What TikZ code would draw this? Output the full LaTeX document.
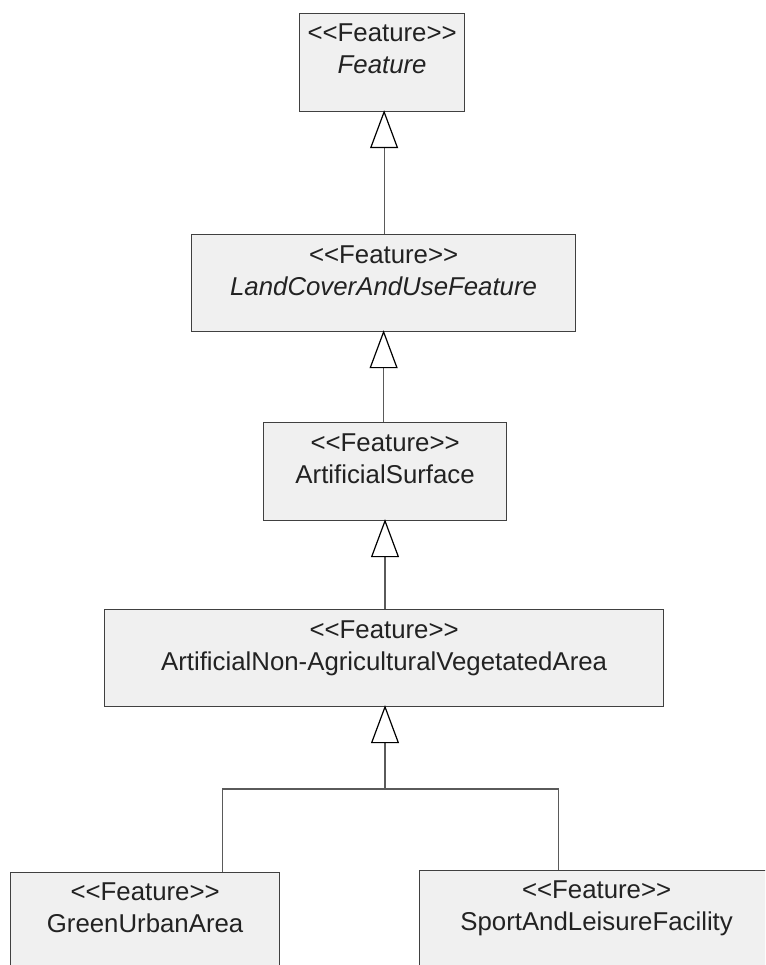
\documentclass[tikz,border=0pt]{standalone}
\usepackage{fontspec}
\setmainfont{Liberation Sans}
\usetikzlibrary{arrows.meta}
\definecolor{boxfill}{HTML}{F0F0F0}
\definecolor{boxline}{HTML}{404040}
\definecolor{conn}{HTML}{5A5A5A}
\definecolor{txt}{HTML}{222222}
\newcommand{\stereo}{{<}{<}Feature{>}{>}}
\tikzset{
  umlbox/.style={draw=boxline, fill=boxfill, line width=1.2pt, rectangle, inner sep=0pt},
  lbl/.style={inner sep=0pt, align=center, text=txt, font=\fontsize{25.8}{32}\selectfont, anchor=north},
  gen/.style={draw=conn, line width=1.2pt, -{Triangle[open, length=38pt, width=28pt, fill=white, color=black]}},
  link/.style={draw=conn, line width=1.2pt}
}
\begin{document}
\begin{tikzpicture}[x=1pt,y=-1pt]
\useasboundingbox (0,0) rectangle (765,965);
\clip (0,0) rectangle (765,965);
% boxes
\node[umlbox, minimum width=165pt, minimum height=98pt, anchor=north west] (b1) at (299,13) {};
\node[umlbox, minimum width=384pt, minimum height=97pt, anchor=north west] (b2) at (191,234) {};
\node[umlbox, minimum width=243pt, minimum height=98pt, anchor=north west] (b3) at (263,422) {};
\node[umlbox, minimum width=559pt, minimum height=97pt, anchor=north west] (b4) at (104,609) {};
\node[umlbox, minimum width=269pt, minimum height=120pt, anchor=north west] (b5) at (10,872) {};
\node[umlbox, minimum width=354pt, minimum height=120pt, anchor=north west] (b6) at (419,870) {};
% labels
\node[lbl] (t1) at ([yshift=-11pt]b1.north) {\stereo\\\textit{Feature}};
\node[lbl] (t2) at ([yshift=-12pt]b2.north) {\stereo\\\textit{LandCoverAndUseFeature}};
\node[lbl] (t3) at ([yshift=-12pt]b3.north) {\stereo\\ArtificialSurface};
\node[lbl] (t4) at ([yshift=-12pt]b4.north) {\stereo\\ArtificialNon-AgriculturalVegetatedArea};
\node[lbl] (t5) at ([yshift=-11pt]b5.north) {\stereo\\GreenUrbanArea};
\node[lbl] (t6) at ([yshift=-11pt]b6.north) {\stereo\\SportAndLeisureFacility};
% connectors
\coordinate (j) at (385,789);
\draw[gen] ([xshift=0.5pt]b2.north) -- ([xshift=0.5pt,yshift=2pt]b2.north |- b1.south);
\draw[gen] (b3.north -| b2.north) -- ([yshift=2pt]b2.south);
\draw[link] ([xshift=77.5pt]b5.north) |- (j);
\draw[link] ([xshift=-38pt]b6.north) |- (j);
\draw[gen] (j) -- ([yshift=2pt]j |- b4.south);
\draw[gen] (j |- b4.north) -- ([yshift=2pt]j |- b3.south);
\end{tikzpicture}
\end{document}
